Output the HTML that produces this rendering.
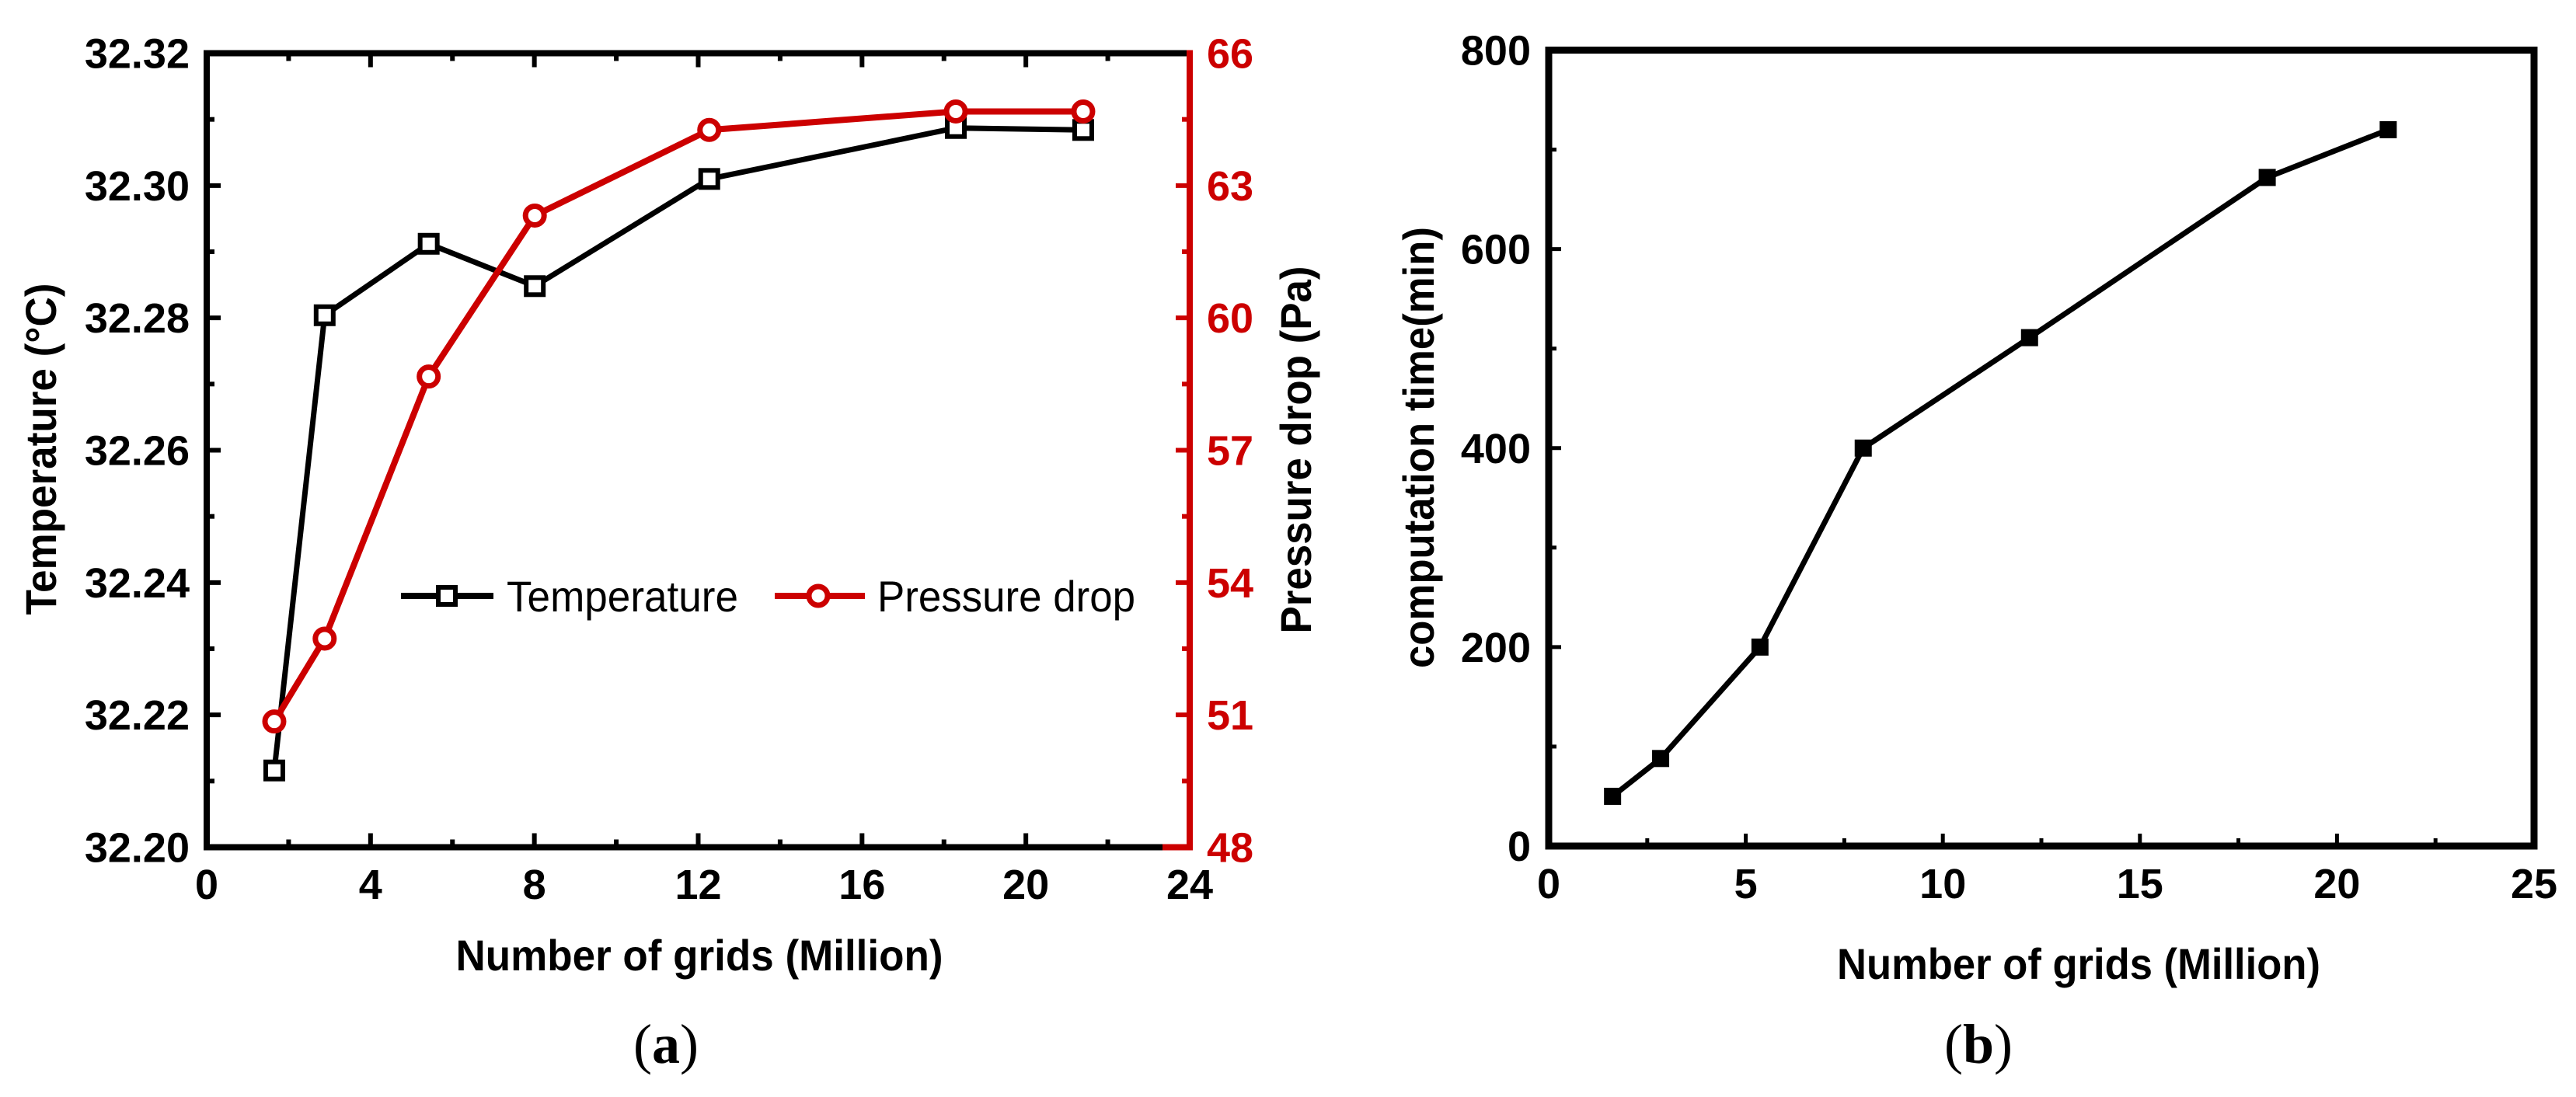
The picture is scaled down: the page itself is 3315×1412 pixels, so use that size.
<!DOCTYPE html>
<html><head><meta charset="utf-8"><style>
html,body{margin:0;padding:0;background:#fff;width:3315px;height:1412px;overflow:hidden}
svg{display:block}
text{font-family:"Liberation Sans Narrow","Liberation Sans",sans-serif}
</style></head><body>
<svg id="chart" width="3315" height="1412" viewBox="0 0 3315 1412" xmlns="http://www.w3.org/2000/svg">
<g id="pa"></g>
<g id="pb"></g>
</svg>
<script>
const gridsA = [1.65, 2.88, 5.42, 8.01, 12.27, 18.29, 21.4];
const tempA = [32.2116, 32.2804, 32.2912, 32.2848, 32.3010, 32.3087, 32.3084];
const pressA = [50.85, 52.73, 58.67, 62.32, 64.26, 64.68, 64.68];
const xTicksA = [0, 4, 8, 12, 16, 20, 24];
const yTicksA = [32.20, 32.22, 32.24, 32.26, 32.28, 32.30, 32.32];
const y2TicksA = [48, 51, 54, 57, 60, 63, 66];
const gridsB = [1.62, 2.84, 5.36, 7.98, 12.2, 18.23, 21.3];
const timeB = [50, 88, 200, 400, 511, 672, 720];
const xTicksB = [0, 5, 10, 15, 20, 25];
const yTicksB = [0, 200, 400, 600, 800];

const NS = "http://www.w3.org/2000/svg";
function mk(parent, tag, attrs, txt){
  const e = document.createElementNS(NS, tag);
  for (const k in attrs) e.setAttribute(k, attrs[k]);
  if (txt !== undefined) e.textContent = txt;
  parent.appendChild(e);
  return e;
}
const RED = "#cc0000";

// ---------- Panel A ----------
const pa = document.getElementById('pa');
const A = {l:266, r:1531, t:68.5, b:1090.5};
const xa = v => A.l + (v - 0) / 24 * (A.r - A.l);
const ya = v => A.b - (v - 32.20) / 0.12 * (A.b - A.t);
const ya2 = v => A.b - (v - 48) / 18 * (A.b - A.t);

// ticks
for (let i = 0; i < xTicksA.length; i++) {
  const x = xa(xTicksA[i]);
  let t = mk(pa,'line',{x1:x,x2:x,y1:A.b,y2:A.b-18,stroke:'#000','stroke-width':6});
   
  t = mk(pa,'line',{x1:x,x2:x,y1:A.t,y2:A.t+18,stroke:'#000','stroke-width':6});
   
  const lb = mk(pa,'text',{x:x,y:1157,'text-anchor':'middle','font-size':54,'font-weight':'bold',fill:'#000'}, String(xTicksA[i]));
   
  if (i < xTicksA.length - 1) {
    const xm = xa((xTicksA[i] + xTicksA[i+1]) / 2);
    let m = mk(pa,'line',{x1:xm,x2:xm,y1:A.b,y2:A.b-10,stroke:'#000','stroke-width':6});
     
    m = mk(pa,'line',{x1:xm,x2:xm,y1:A.t,y2:A.t+10,stroke:'#000','stroke-width':6});
     
  }
}
for (let i = 0; i < yTicksA.length; i++) {
  const y = ya(yTicksA[i]);
  let t = mk(pa,'line',{x1:A.l,x2:A.l+18,y1:y,y2:y,stroke:'#000','stroke-width':6});
   
  const lb = mk(pa,'text',{x:244,y:y+19,'text-anchor':'end','font-size':54,'font-weight':'bold',fill:'#000'}, yTicksA[i].toFixed(2));
   
  if (i < yTicksA.length - 1) {
    const ym = ya((yTicksA[i] + yTicksA[i+1]) / 2);
    const m = mk(pa,'line',{x1:A.l,x2:A.l+10,y1:ym,y2:ym,stroke:'#000','stroke-width':6});
     
  }
}
for (let i = 0; i < y2TicksA.length; i++) {
  const y = ya2(y2TicksA[i]);
  let t = mk(pa,'line',{x1:A.r,x2:A.r-18,y1:y,y2:y,stroke:RED,'stroke-width':6});
   
  const lb = mk(pa,'text',{x:1553,y:y+19,'text-anchor':'start','font-size':54,'font-weight':'bold',fill:RED}, String(y2TicksA[i]));
   
  if (i < y2TicksA.length - 1) {
    const ym = ya2((y2TicksA[i] + y2TicksA[i+1]) / 2);
    const m = mk(pa,'line',{x1:A.r,x2:A.r-10,y1:ym,y2:ym,stroke:RED,'stroke-width':6});
     
  }
}
// frame
let e;
e = mk(pa,'path',{d:`M${A.r-4},${A.t} H${A.l} V${A.b} H${A.r-4}`,fill:'none',stroke:'#000','stroke-width':8});
 
e = mk(pa,'path',{d:`M${A.r-35},${A.b} H${A.r} V${A.t-4}`,fill:'none',stroke:RED,'stroke-width':8});
 

// series lines
e = mk(pa,'polyline',{points:gridsA.map((g,i)=>xa(g)+','+ya(tempA[i])).join(' '),fill:'none',stroke:'#000','stroke-width':7,'stroke-linejoin':'round'});
 
e = mk(pa,'polyline',{points:gridsA.map((g,i)=>xa(g)+','+ya2(pressA[i])).join(' '),fill:'none',stroke:RED,'stroke-width':8,'stroke-linejoin':'round'});
 
for (let i = 0; i < gridsA.length; i++) {
  const x = xa(gridsA[i]), y = ya(tempA[i]);
  const m = mk(pa,'rect',{x:x-11,y:y-11,width:22,height:22,fill:'#fff',stroke:'#000','stroke-width':6});
   
}
for (let i = 0; i < gridsA.length; i++) {
  const x = xa(gridsA[i]), y = ya2(pressA[i]);
  const m = mk(pa,'circle',{cx:x,cy:y,r:12,fill:'#fff',stroke:RED,'stroke-width':7});
   
}
// legend
const lg = mk(pa,'g',{});
 
e = mk(lg,'line',{x1:516,x2:635,y1:767,y2:767,stroke:'#000','stroke-width':8});
 
e = mk(lg,'rect',{x:564,y:756,width:22,height:22,fill:'#fff',stroke:'#000','stroke-width':6});
 
e = mk(lg,'text',{x:652,y:787,'font-size':56,fill:'#000',textLength:298,lengthAdjust:'spacingAndGlyphs'},'Temperature');
 
e = mk(lg,'line',{x1:997,x2:1113,y1:767,y2:767,stroke:RED,'stroke-width':8});
 
e = mk(lg,'circle',{cx:1053,cy:767,r:12,fill:'#fff',stroke:RED,'stroke-width':7});
 
e = mk(lg,'text',{x:1129,y:787,'font-size':56,fill:'#000',textLength:332,lengthAdjust:'spacingAndGlyphs'},'Pressure drop');
 
// titles
e = mk(pa,'text',{x:0,y:0,transform:'translate(72,578) rotate(-90)','text-anchor':'middle','font-size':56,'font-weight':'bold',textLength:427,lengthAdjust:'spacingAndGlyphs'},'Temperature (°C)');
 
e = mk(pa,'text',{x:0,y:0,transform:'translate(1687,579) rotate(-90)','text-anchor':'middle','font-size':56,'font-weight':'bold',textLength:473,lengthAdjust:'spacingAndGlyphs'},'Pressure drop (Pa)');
 
e = mk(pa,'text',{x:900,y:1249,'text-anchor':'middle','font-size':56,'font-weight':'bold',textLength:627,lengthAdjust:'spacingAndGlyphs'},'Number of grids (Million)');
 
e = mk(pa,'text',{x:857,y:1366,'text-anchor':'middle','font-size':72,style:'font-family:"Liberation Serif",serif'},'(');
e.textContent='';
const ca = mk(pa,'text',{x:857,y:1368,'text-anchor':'middle','font-size':72,style:'font-family:"Liberation Serif",serif'});
ca.innerHTML = '(<tspan font-weight="bold">a</tspan>)';
 

// ---------- Panel B ----------
const pb = document.getElementById('pb');
const B = {l:1993, r:3261, t:64.5, b:1089};
const xb = v => B.l + v / 25 * (B.r - B.l);
const yb = v => B.b - v / 800 * (B.b - B.t);
for (let i = 0; i < xTicksB.length; i++) {
  const x = xb(xTicksB[i]);
  let t = mk(pb,'line',{x1:x,x2:x,y1:B.b,y2:B.b-16,stroke:'#000','stroke-width':5});
   
  const lb = mk(pb,'text',{x:x,y:1156,'text-anchor':'middle','font-size':54,'font-weight':'bold',fill:'#000'}, String(xTicksB[i]));
   
  if (i < xTicksB.length - 1) {
    const xm = xb((xTicksB[i] + xTicksB[i+1]) / 2);
    const m = mk(pb,'line',{x1:xm,x2:xm,y1:B.b,y2:B.b-10,stroke:'#000','stroke-width':5});
     
  }
}
for (let i = 0; i < yTicksB.length; i++) {
  const y = yb(yTicksB[i]);
  let t = mk(pb,'line',{x1:B.l,x2:B.l+16,y1:y,y2:y,stroke:'#000','stroke-width':5});
   
  const lb = mk(pb,'text',{x:1970,y:y+19,'text-anchor':'end','font-size':54,'font-weight':'bold',fill:'#000'}, String(yTicksB[i]));
   
  if (i < yTicksB.length - 1) {
    const ym = yb((yTicksB[i] + yTicksB[i+1]) / 2);
    const m = mk(pb,'line',{x1:B.l,x2:B.l+10,y1:ym,y2:ym,stroke:'#000','stroke-width':5});
     
  }
}
e = mk(pb,'rect',{x:B.l,y:B.t,width:B.r-B.l,height:B.b-B.t,fill:'none',stroke:'#000','stroke-width':9});
 
e = mk(pb,'polyline',{points:gridsB.map((g,i)=>xb(g)+','+yb(timeB[i])).join(' '),fill:'none',stroke:'#000','stroke-width':7,'stroke-linejoin':'round'});
 
for (let i = 0; i < gridsB.length; i++) {
  const m = mk(pb,'rect',{x:xb(gridsB[i])-11,y:yb(timeB[i])-11,width:22,height:22,fill:'#000'});
   
}
e = mk(pb,'text',{x:0,y:0,transform:'translate(1845,576) rotate(-90)','text-anchor':'middle','font-size':56,'font-weight':'bold',textLength:568,lengthAdjust:'spacingAndGlyphs'},'computation time(min)');
 
e = mk(pb,'text',{x:2675,y:1260,'text-anchor':'middle','font-size':56,'font-weight':'bold',textLength:622,lengthAdjust:'spacingAndGlyphs'},'Number of grids (Million)');
 
const cb = mk(pb,'text',{x:2546,y:1368,'text-anchor':'middle','font-size':72,style:'font-family:"Liberation Serif",serif'});
cb.innerHTML = '(<tspan font-weight="bold">b</tspan>)';
 
</script>
</body></html>
